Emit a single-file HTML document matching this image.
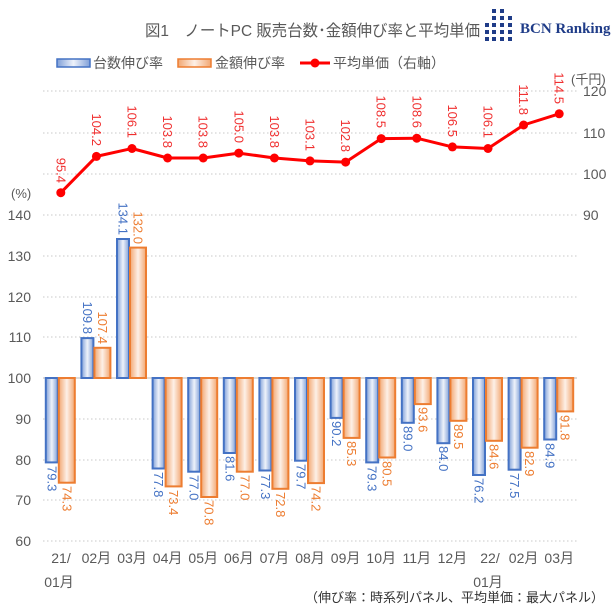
<!DOCTYPE html>
<html><head><meta charset="utf-8"><style>
html,body{margin:0;padding:0;background:#fff;}
svg{display:block;font-family:"Liberation Sans","Noto Sans CJK JP",sans-serif;}
.bl{fill:#4472C4;font-size:13px;}
.or{fill:#ED7D31;font-size:13px;}
.rd{fill:#F03030;font-size:13px;}
.ax{fill:#595959;font-size:14px;}
</style></head><body>
<svg width="614" height="614" viewBox="0 0 614 614">
<defs>
<linearGradient id="gb" x1="0" x2="1" y1="0" y2="0"><stop offset="0" stop-color="#7f9fd8"/><stop offset="0.5" stop-color="#eef2fa"/><stop offset="1" stop-color="#7f9fd8"/></linearGradient>
<linearGradient id="go" x1="0" x2="1" y1="0" y2="0"><stop offset="0" stop-color="#f2a772"/><stop offset="0.5" stop-color="#fdf0e7"/><stop offset="1" stop-color="#f2a772"/></linearGradient>
</defs>
<!-- title -->
<text x="145" y="36" fill="#595959" font-size="16" textLength="335" lengthAdjust="spacingAndGlyphs">図1　ノートPC  販売台数･金額伸び率と平均単価</text>
<g fill="#1f3c88">
<rect x="492" y="9" width="4" height="4"/><rect x="500" y="9" width="4" height="4"/>
<rect x="492" y="16" width="4" height="4"/><rect x="500" y="16" width="4" height="4"/><rect x="508" y="16" width="4" height="4"/>
<rect x="492" y="23" width="4" height="4"/><rect x="500" y="23" width="4" height="4"/><rect x="508" y="23" width="4" height="4"/><rect x="485" y="23" width="4" height="4"/>
<rect x="492" y="30" width="4" height="4"/><rect x="500" y="30" width="4" height="4"/><rect x="508" y="30" width="4" height="4"/><rect x="485" y="30" width="4" height="4"/>
<rect x="492" y="37" width="4" height="4"/><rect x="500" y="37" width="4" height="4"/><rect x="508" y="37" width="4" height="4"/><rect x="485" y="37" width="4" height="4"/>
</g>
<text x="520" y="33" fill="#1f3c88" font-size="15" font-weight="bold" font-family="Liberation Serif,serif">BCN Ranking</text>
<!-- legend -->
<rect x="57" y="59" width="33" height="8" fill="url(#gb)" stroke="#4472C4" stroke-width="1.5"/>
<text x="93" y="68" fill="#595959" font-size="14">台数伸び率</text>
<rect x="178" y="59" width="33" height="8" fill="url(#go)" stroke="#ED7D31" stroke-width="1.5"/>
<text x="215" y="68" fill="#595959" font-size="14">金額伸び率</text>
<line x1="300" y1="63" x2="330" y2="63" stroke="#f00" stroke-width="3"/><circle cx="315" cy="63" r="4.5" fill="#f00"/>
<text x="333" y="68" fill="#595959" font-size="14">平均単価（右軸）</text>
<!-- grid -->
<g stroke="#c8c8c8" stroke-dasharray="1.5,2.5" stroke-width="1">
<line x1="43" x2="577" y1="91" y2="91"/><line x1="43" x2="577" y1="133" y2="133"/><line x1="43" x2="577" y1="174" y2="174"/>
<line x1="43" x2="577" y1="215" y2="215"/><line x1="43" x2="577" y1="256" y2="256"/><line x1="43" x2="577" y1="297" y2="297"/><line x1="43" x2="577" y1="337" y2="337"/>
<line x1="43" x2="577" y1="419" y2="419"/><line x1="43" x2="577" y1="460" y2="460"/><line x1="43" x2="577" y1="500" y2="500"/><line x1="43" x2="577" y1="541" y2="541"/>
</g>
<line x1="43" x2="577" y1="378" y2="378" stroke="#d0d0d0" stroke-width="1.5"/>
<!-- axis labels -->
<g class="ax" text-anchor="end">
<text x="31" y="220">140</text><text x="31" y="261">130</text><text x="31" y="302">120</text><text x="31" y="342">110</text><text x="31" y="383">100</text><text x="31" y="424">90</text><text x="31" y="465">80</text><text x="31" y="505">70</text><text x="31" y="546">60</text>
</g>
<text x="11" y="198" fill="#595959" font-size="13">(%)</text>
<g class="ax">
<text x="583" y="96">120</text><text x="583" y="138">110</text><text x="583" y="179">100</text><text x="583" y="220">90</text>
</g>
<text x="571" y="84" fill="#595959" font-size="13">(千円)</text>
<!-- bars -->
<g stroke-width="2">
<g fill="url(#gb)" stroke="#4472C4">
<rect x="45.8" y="378" width="12" height="84.4"/>
<rect x="81.4" y="338.1" width="12" height="39.9"/>
<rect x="117" y="239" width="12" height="139"/>
<rect x="152.6" y="378" width="12" height="90.5"/>
<rect x="188.2" y="378" width="12" height="93.7"/>
<rect x="223.8" y="378" width="12" height="75"/>
<rect x="259.4" y="378" width="12" height="92.5"/>
<rect x="295" y="378" width="12" height="82.7"/>
<rect x="330.6" y="378" width="12" height="39.9"/>
<rect x="366.2" y="378" width="12" height="84.4"/>
<rect x="401.8" y="378" width="12" height="44.8"/>
<rect x="437.4" y="378" width="12" height="65.2"/>
<rect x="473" y="378" width="12" height="97"/>
<rect x="508.6" y="378" width="12" height="91.7"/>
<rect x="544.2" y="378" width="12" height="61.5"/>
</g>
<g fill="url(#go)" stroke="#ED7D31">
<rect x="58.8" y="378" width="16" height="104.7"/>
<rect x="94.4" y="347.8" width="16" height="30.2"/>
<rect x="130" y="247.6" width="16" height="130.4"/>
<rect x="165.6" y="378" width="16" height="108.4"/>
<rect x="201.2" y="378" width="16" height="119"/>
<rect x="236.8" y="378" width="16" height="93.7"/>
<rect x="272.4" y="378" width="16" height="110.8"/>
<rect x="308" y="378" width="16" height="105.1"/>
<rect x="343.6" y="378" width="16" height="59.9"/>
<rect x="379.2" y="378" width="16" height="79.5"/>
<rect x="414.8" y="378" width="16" height="26.1"/>
<rect x="450.4" y="378" width="16" height="42.8"/>
<rect x="486" y="378" width="16" height="62.8"/>
<rect x="521.6" y="378" width="16" height="69.7"/>
<rect x="557.2" y="378" width="16" height="33.4"/>
</g>
</g>
<!-- bar labels -->
<g class="bl" dominant-baseline="central">
<text transform="translate(51.8,466) rotate(90)">79.3</text>
<text transform="translate(87.4,334) rotate(90)" text-anchor="end">109.8</text>
<text transform="translate(123,235) rotate(90)" text-anchor="end">134.1</text>
<text transform="translate(158.6,472) rotate(90)">77.8</text>
<text transform="translate(194.2,475) rotate(90)">77.0</text>
<text transform="translate(229.8,456) rotate(90)">81.6</text>
<text transform="translate(265.4,474) rotate(90)">77.3</text>
<text transform="translate(301,464) rotate(90)">79.7</text>
<text transform="translate(336.6,421) rotate(90)">90.2</text>
<text transform="translate(372.2,466) rotate(90)">79.3</text>
<text transform="translate(407.8,426) rotate(90)">89.0</text>
<text transform="translate(443.4,446) rotate(90)">84.0</text>
<text transform="translate(479,478) rotate(90)">76.2</text>
<text transform="translate(514.6,473) rotate(90)">77.5</text>
<text transform="translate(550.2,443) rotate(90)">84.9</text>
</g>
<g class="or" dominant-baseline="central">
<text transform="translate(66.8,486) rotate(90)">74.3</text>
<text transform="translate(102.4,344) rotate(90)" text-anchor="end">107.4</text>
<text transform="translate(138,244) rotate(90)" text-anchor="end">132.0</text>
<text transform="translate(173.6,490) rotate(90)">73.4</text>
<text transform="translate(209.2,500) rotate(90)">70.8</text>
<text transform="translate(244.8,475) rotate(90)">77.0</text>
<text transform="translate(280.4,492) rotate(90)">72.8</text>
<text transform="translate(316,486) rotate(90)">74.2</text>
<text transform="translate(351.6,441) rotate(90)">85.3</text>
<text transform="translate(387.2,461) rotate(90)">80.5</text>
<text transform="translate(422.8,407) rotate(90)">93.6</text>
<text transform="translate(458.4,424) rotate(90)">89.5</text>
<text transform="translate(494,444) rotate(90)">84.6</text>
<text transform="translate(529.6,451) rotate(90)">82.9</text>
<text transform="translate(565.2,415) rotate(90)">91.8</text>
</g>
<!-- line -->
<polyline fill="none" stroke="#f00" stroke-width="3" stroke-linejoin="round" points="60.8,192.7 96.4,156.4 132,148.5 167.6,158 203.2,158 238.8,153.1 274.4,158 310,160.9 345.6,162.1 381.2,138.6 416.8,138.2 452.4,146.9 488,148.5 523.6,125 559.2,113.8"/>
<g fill="#f00">
<circle cx="60.8" cy="192.7" r="4.5"/><circle cx="96.4" cy="156.4" r="4.5"/><circle cx="132" cy="148.5" r="4.5"/><circle cx="167.6" cy="158" r="4.5"/><circle cx="203.2" cy="158" r="4.5"/><circle cx="238.8" cy="153.1" r="4.5"/><circle cx="274.4" cy="158" r="4.5"/><circle cx="310" cy="160.9" r="4.5"/><circle cx="345.6" cy="162.1" r="4.5"/><circle cx="381.2" cy="138.6" r="4.5"/><circle cx="416.8" cy="138.2" r="4.5"/><circle cx="452.4" cy="146.9" r="4.5"/><circle cx="488" cy="148.5" r="4.5"/><circle cx="523.6" cy="125" r="4.5"/><circle cx="559.2" cy="113.8" r="4.5"/>
</g>
<g class="rd" dominant-baseline="central" text-anchor="end">
<text transform="translate(60.8,183) rotate(90)">95.4</text>
<text transform="translate(96.4,146) rotate(90)">104.2</text>
<text transform="translate(132,138) rotate(90)">106.1</text>
<text transform="translate(167.6,148) rotate(90)">103.8</text>
<text transform="translate(203.2,148) rotate(90)">103.8</text>
<text transform="translate(238.8,143) rotate(90)">105.0</text>
<text transform="translate(274.4,148) rotate(90)">103.8</text>
<text transform="translate(310,151) rotate(90)">103.1</text>
<text transform="translate(345.6,152) rotate(90)">102.8</text>
<text transform="translate(381.2,128) rotate(90)">108.5</text>
<text transform="translate(416.8,128) rotate(90)">108.6</text>
<text transform="translate(452.4,137) rotate(90)">106.5</text>
<text transform="translate(488,138) rotate(90)">106.1</text>
<text transform="translate(523.6,115) rotate(90)">111.8</text>
<text transform="translate(559.2,104) rotate(90)">114.5</text>
</g>
<!-- x labels -->
<g class="ax" text-anchor="middle">
<text x="61" y="563">21/</text><text x="59" y="587">01月</text>
<text x="96.4" y="563">02月</text><text x="132" y="563">03月</text><text x="167.6" y="563">04月</text><text x="203.2" y="563">05月</text><text x="238.8" y="563">06月</text><text x="274.4" y="563">07月</text><text x="310" y="563">08月</text><text x="345.6" y="563">09月</text><text x="381.2" y="563">10月</text><text x="416.8" y="563">11月</text><text x="452.4" y="563">12月</text>
<text x="490" y="563">22/</text><text x="488" y="587">01月</text>
<text x="523.6" y="563">02月</text><text x="559.2" y="563">03月</text>
</g>
<text x="604" y="602" text-anchor="end" fill="#333" font-size="13">（伸び率：時系列パネル、平均単価：最大パネル）</text>
</svg>
</body></html>
